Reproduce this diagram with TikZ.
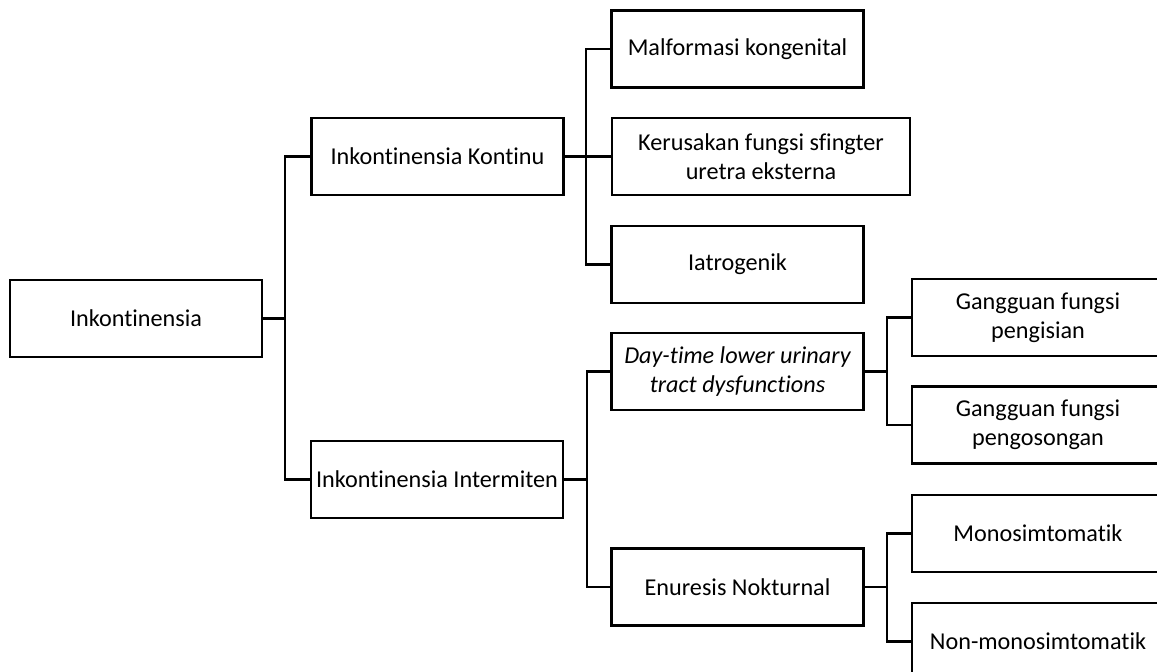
\documentclass[tikz,border=0pt]{standalone}
\usepackage{fontspec}
\setmainfont{Carlito}[RawFeature={-liga;-clig;-dlig}]
\begin{document}
\begin{tikzpicture}[x=0.5pt,y=-0.5pt,
  line width=1.1pt,
  box/.style={draw=black, fill=white, minimum width=126pt, minimum height=38.5pt,
    inner sep=0pt, align=center, font=\fontsize{12.1}{14.6}\selectfont},
  wide/.style={box, minimum width=149pt},
  link/.style={draw=black, line width=1.1pt}]
\useasboundingbox (0,0) rectangle (1157,672);
\clip (0,0) rectangle (1157,672);

% first level
\node[box] (root) at (136,318.5) {Inkontinensia};

% second level
\node[box] (kontinu) at (437.5,156.5) {Inkontinensia Kontinu};
\node[box] (intermiten) at (437,479.5) {Inkontinensia Intermiten};

% causes of continuous incontinence
\node[box] (malformasi) at (737.5,49) {Malformasi kongenital};
\node[wide] (kerusakan) at (761,156.5) {Kerusakan fungsi sfingter\\uretra eksterna};
\node[box] (iatrogenik) at (737.5,264.5) {Iatrogenik};

% types of intermittent incontinence
\node[box] (daytime) at (737.5,371.5) {\itshape Day-time lower urinary\\\itshape tract dysfunctions};
\node[box] (enuresis) at (737.5,587) {Enuresis Nokturnal};

% fourth level
\node[box] (pengisian) at (1038,317.5) {Gangguan fungsi\\pengisian};
\node[box] (pengosongan) at (1038,425) {Gangguan fungsi\\pengosongan};
\node[box] (mono) at (1038,533.5) {Monosimtomatik};
\node[box] (nonmono) at (1038,641.5) {Non-monosimtomatik};

% junction points of the brackets
\coordinate (j0) at (285,318.5);
\coordinate (j1) at (586,156.5);
\coordinate (j2) at (587,479.5);
\coordinate (j3) at (887,371.5);
\coordinate (j4) at (887,587);

\draw[link] (root.east) -- (j0);
\draw[link] (j0) |- (kontinu.west);
\draw[link] (j0) |- (intermiten.west);

\draw[link] (kontinu.east) -- (j1);
\draw[link] (j1) |- (malformasi.west);
\draw[link] (j1) -- (kerusakan.west);
\draw[link] (j1) |- (iatrogenik.west);

\draw[link] (intermiten.east) -- (j2);
\draw[link] (j2) |- (daytime.west);
\draw[link] (j2) |- (enuresis.west);

\draw[link] (daytime.east) -- (j3);
\draw[link] (j3) |- (pengisian.west);
\draw[link] (j3) |- (pengosongan.west);

\draw[link] (enuresis.east) -- (j4);
\draw[link] (j4) |- (mono.west);
\draw[link] (j4) |- (nonmono.west);
\end{tikzpicture}
\end{document}
